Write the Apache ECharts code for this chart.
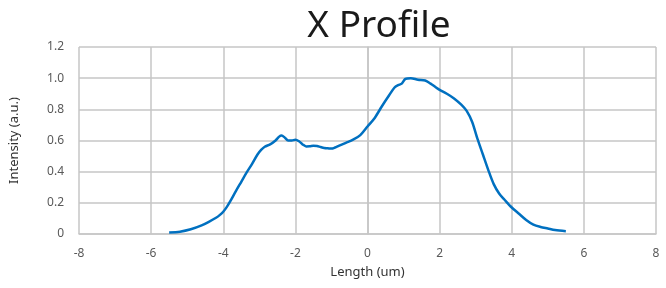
<!DOCTYPE html>
<html>
<head>
<meta charset="utf-8">
<script src="https://cdn.jsdelivr.net/npm/echarts@6/dist/echarts.min.js"></script>
<style>html,body{margin:0;padding:0;background:#fff;}#c{width:666px;height:288px;}</style>
</head>
<body>
<div id="c"></div>
<script>
const titleText = "X Profile";
const xName = "Length (um)";
const yName = "Intensity (a.u.)";
const xs = [-5.5,-5.2,-4.9,-4.6,-4.4,-4.2,-4.1,-4.0,-3.9,-3.8,-3.65,-3.5,-3.35,-3.2,-3.05,-2.95,-2.85,-2.7,-2.55,-2.45,-2.38,-2.3,-2.2,-2.1,-2.0,-1.9,-1.8,-1.7,-1.6,-1.5,-1.4,-1.3,-1.2,-1.1,-1.0,-0.9,-0.8,-0.6,-0.4,-0.2,0,0.2,0.4,0.6,0.75,0.85,0.95,1.05,1.2,1.4,1.6,1.75,1.9,2.0,2.2,2.4,2.6,2.75,2.9,3.05,3.2,3.35,3.5,3.65,3.8,4.0,4.2,4.4,4.6,4.8,5.0,5.2,5.5];
const ys = [0.01,0.015,0.03,0.055,0.078,0.104,0.121,0.143,0.174,0.212,0.275,0.335,0.395,0.45,0.51,0.54,0.56,0.575,0.60,0.625,0.632,0.62,0.60,0.60,0.605,0.595,0.575,0.562,0.563,0.567,0.565,0.558,0.552,0.55,0.548,0.555,0.565,0.585,0.605,0.635,0.69,0.745,0.82,0.89,0.94,0.955,0.965,0.995,1.0,0.99,0.985,0.965,0.94,0.925,0.9,0.87,0.83,0.79,0.72,0.61,0.51,0.41,0.32,0.26,0.22,0.17,0.13,0.09,0.06,0.045,0.035,0.025,0.018];
const yTickLabels = {0:"0",0.2:"0.2",0.4:"0.4",0.6:"0.6",0.8:"0.8",1:"1.0",1.2:"1.2"};

const data = xs.map((x,i)=>[x, ys[i]]);
const font = "'Noto Sans', sans-serif";
const chart = echarts.init(document.getElementById('c'), null, {renderer:'canvas'});
chart.setOption({
  animation:false,
  title:{text:titleText, left:374, top:3, textAlign:'center',
    textStyle:{fontFamily:font, fontSize:37, fontWeight:'normal', color:'#1a1a1a'}},
  grid:{left:78, right:10, top:47, bottom:54, containLabel:false},
  xAxis:{type:'value', min:-8, max:8, interval:2,
    name:xName, nameLocation:'middle', nameGap:32,
    nameTextStyle:{fontFamily:font, fontSize:13, color:'#333'},
    axisLine:{show:true, lineStyle:{color:'#c6c6c6', width:1.5}},
    axisTick:{show:false},
    axisLabel:{fontFamily:font, fontSize:12, color:'#595959', margin:14},
    splitLine:{show:true, lineStyle:{color:'#c6c6c6', width:1.5}}},
  yAxis:{type:'value', min:0, max:1.2, interval:0.2,
    name:yName, nameLocation:'middle', nameGap:58,
    nameTextStyle:{fontFamily:font, fontSize:13, color:'#333'},
    axisLine:{show:true, lineStyle:{color:'#c6c6c6', width:1.5}},
    axisTick:{show:false},
    axisLabel:{fontFamily:font, fontSize:12, color:'#595959', margin:15,
      formatter:v=>{const k=Math.round(v*10)/10; return yTickLabels[k]!==undefined?yTickLabels[k]:String(k);}},
    splitLine:{show:true, lineStyle:{color:'#c6c6c6', width:1.5}}},
  series:[{type:'line', data:data, smooth:0.3, showSymbol:false,
    lineStyle:{color:'#0070c0', width:2.5}}]
});
</script>
</body>
</html>
